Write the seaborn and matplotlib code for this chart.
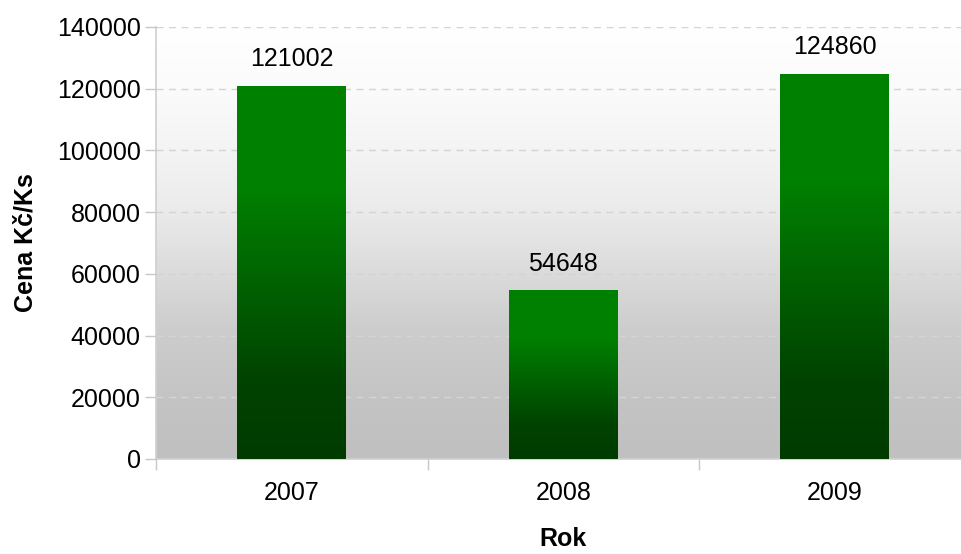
import numpy as np
import pandas as pd
import matplotlib
matplotlib.use("Agg")
import matplotlib.pyplot as plt
from matplotlib.colors import LinearSegmentedColormap
import seaborn as sns

sns.set_theme(style="white")
plt.rcParams["font.family"] = ["Liberation Sans", "DejaVu Sans"]
plt.rcParams["text.color"] = "black"
plt.rcParams["axes.labelcolor"] = "black"
plt.rcParams["xtick.color"] = "black"
plt.rcParams["ytick.color"] = "black"

# ── Data ─────────────────────────────────────────────────────────────────────
years = ["2007", "2008", "2009"]
prices = [121002, 54648, 124860]
y_ticks = [0, 20000, 40000, 60000, 80000, 100000, 120000, 140000]

df = pd.DataFrame({"rok": years, "cena": prices})

# ── Figure ───────────────────────────────────────────────────────────────────
W, H = 962, 554
FS = 18
fig = plt.figure(figsize=(W / 100, H / 100), dpi=100)
fig.patch.set_facecolor("white")
ax = fig.add_axes([156 / W, 95 / H, (970.5 - 156) / W, 432 / H])

sns.barplot(data=df, x="rok", y="cena", ax=ax, width=0.4, color="#006000",
            zorder=3)

ax.set_yticks(y_ticks)
ax.set_yticklabels([str(t) for t in y_ticks], fontsize=FS)
ax.tick_params(axis="x", length=0, labelsize=FS, pad=16, labelcolor="black")
ax.tick_params(axis="y", length=8, color="#c8c8c8", width=1, left=True, pad=3,
               labelcolor="black")
ax.set_xticks([-0.5, 0.5, 1.5, 2.5], minor=True)
ax.tick_params(axis="x", which="minor", length=8, color="#c8c8c8", width=1, bottom=True)

# background gradient (white top -> grey bottom)
bg_cmap = LinearSegmentedColormap.from_list(
    "bg", [(0.0, "#c0c0c0"), (0.12, "#c3c3c3"), (0.3, "#cdcdcd"),
           (0.58, "#ebebeb"), (0.72, "#f4f4f4"), (0.86, "#fbfbfb"),
           (1.0, "#ffffff")])
grad = np.linspace(0, 1, 256).reshape(-1, 1)
ax.imshow(grad, cmap=bg_cmap, aspect="auto", extent=[0, 1, 0, 1],
          transform=ax.transAxes, origin="lower", zorder=0)

ax.yaxis.grid(True, linestyle=(0, (5, 4)), color="#d4d4d4", linewidth=1)
ax.set_axisbelow(False)
for line in ax.get_ygridlines():
    line.set_zorder(1)

for side in ["top", "right"]:
    ax.spines[side].set_visible(False)
ax.spines["left"].set_color("#d0d0d0")
ax.spines["bottom"].set_color("#d0d0d0")

# green gradient bars
bar_cmap = LinearSegmentedColormap.from_list(
    "bar", [(0.0, "#003c00"), (0.2, "#004200"), (0.5, "#006600"),
            (0.72, "#008000"), (1.0, "#008000")])
for patch in ax.patches:
    x0, y0 = patch.get_x(), patch.get_y()
    w, h = patch.get_width(), patch.get_height()
    img = ax.imshow(grad, cmap=bar_cmap, aspect="auto", origin="lower",
                    extent=[x0, x0 + w, y0, y0 + h], zorder=3)
    img.set_clip_path(patch)
    patch.set_facecolor("none")
    patch.set_edgecolor("none")
    ax.text(x0 + w / 2, y0 + h + 4800, f"{int(h)}", ha="center", va="bottom",
            fontsize=FS, color="black", zorder=4)

ax.set_xlim(-0.5, 2.5)
ax.set_ylim(0, 140000)

ax.set_xlabel("Rok", fontsize=FS, fontweight="bold", labelpad=16, color="black")
ax.set_ylabel("Cena Kč/Ks", fontsize=FS, fontweight="bold", labelpad=14, color="black")

fig.savefig("out.png", dpi=100)
